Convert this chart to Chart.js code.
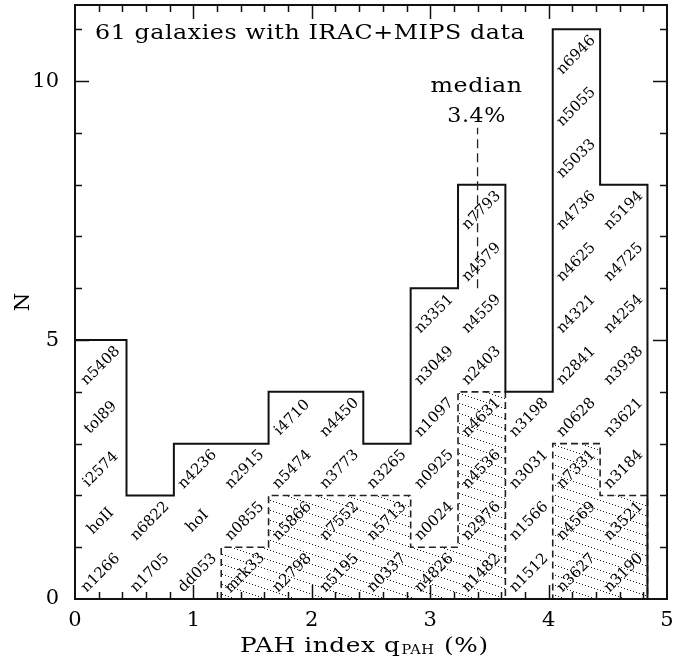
<!DOCTYPE html>
<html>
<head>
<meta charset="utf-8">
<script src="https://cdn.jsdelivr.net/npm/chart.js@4.4.1/dist/chart.umd.min.js"></script>
<style>
  html, body { margin: 0; padding: 0; background: #fff; }
  #wrap { width: 691px; height: 664px; }
</style>
</head>
<body>
<div id="wrap"><canvas id="hist" width="691" height="664"></canvas></div>
<script>
// Границы интервалов и число галактик в каждом (все 61)
var binEdges = [0.0, 0.435, 0.835, 1.235, 1.635, 2.035, 2.435, 2.835, 3.235, 3.635, 4.035, 4.435, 4.835];
var allCounts = [5, 2, 3, 3, 4, 4, 3, 6, 8, 4, 11, 8];

// Заштрихованная подвыборка
var subEdges = [1.235, 1.635, 2.035, 2.435, 2.835, 3.235, 3.635, 4.035, 4.435, 4.835];
var subCounts = [1, 2, 2, 2, 1, 4, 0, 3, 2];

// Имена галактик по интервалам, снизу вверх
var galaxyNames = [
    ['n1266', 'hoII', 'i2574', 'tol89', 'n5408'],
    ['n1705', 'n6822'],
    ['dd053', 'hoI', 'n4236'],
    ['mrk33', 'n0855', 'n2915'],
    ['n2798', 'n5866', 'n5474', 'i4710'],
    ['n5195', 'n7552', 'n3773', 'n4450'],
    ['n0337', 'n5713', 'n3265'],
    ['n4826', 'n0024', 'n0925', 'n1097', 'n3049', 'n3351'],
    ['n1482', 'n2976', 'n4536', 'n4631', 'n2403', 'n4559', 'n4579', 'n7793'],
    ['n1512', 'n1566', 'n3031', 'n3198'],
    ['n3627', 'n4569', 'n7331', 'n0628', 'n2841', 'n4321', 'n4625', 'n4736', 'n5033', 'n5055', 'n6946'],
    ['n3190', 'n3521', 'n3184', 'n3621', 'n3938', 'n4254', 'n4725', 'n5194']
];

// Медиана
var medianValue = 3.4;
var medianSpan = [6, 9.1];

// Подписи осей
var xTickValues = [0, 1, 2, 3, 4, 5];
var yTickValues = [0, 5, 10];

var SERIF = "'DejaVu Serif', 'Liberation Serif', serif";
Chart.defaults.font.family = SERIF;
Chart.defaults.color = '#000';

// Точки ступенчатой линии
function stepPoints(edges, counts) {
    var pts = [{ x: edges[0], y: 0 }];
    for (var i = 0; i < counts.length; i++) {
        pts.push({ x: edges[i], y: counts[i] });
    }
    pts.push({ x: edges[edges.length - 1], y: counts[counts.length - 1] });
    pts.push({ x: edges[edges.length - 1], y: 0 });
    return pts;
}

// Штриховка точечными наклонными линиями
function makeHatch(ctx) {
    var c = document.createElement('canvas');
    c.width = 30;
    c.height = 10;
    var g = c.getContext('2d');
    g.fillStyle = '#1a1a1a';
    for (var t = 0; t < 30; t += 3) {
        g.fillRect(t, Math.round(t / 3), 1, 1);
    }
    return ctx.createPattern(c, 'repeat');
}

// Широкий текст: растяжение по горизонтали
function wideText(ctx, text, x, y, size, sx, align) {
    ctx.save();
    ctx.font = size + 'px ' + SERIF;
    ctx.letterSpacing = '0.5px';
    var w = ctx.measureText(text).width * sx;
    var left = align === 'center' ? x - w / 2 : x;
    ctx.translate(left, y);
    ctx.scale(sx, 1);
    ctx.textAlign = 'left';
    ctx.fillText(text, 0, 0);
    ctx.restore();
    return w;
}

// Рамка и засечки внутрь
var frameTicks = {
    id: 'frameTicks',
    afterDatasetsDraw: function (chart) {
        var ctx = chart.ctx, a = chart.chartArea;
        var xs = chart.scales.x, ys = chart.scales.y;
        ctx.save();
        ctx.strokeStyle = '#111';
        ctx.lineWidth = 1.5;
        ctx.beginPath();
        var v, px, len;
        for (var k = 1; k < 25; k++) {
            v = k * 0.2;
            px = Math.round(xs.getPixelForValue(v)) + 0.5;
            len = (k % 5 === 0) ? 14 : 7;
            ctx.moveTo(px, a.bottom); ctx.lineTo(px, a.bottom - len);
            ctx.moveTo(px, a.top); ctx.lineTo(px, a.top + len);
        }
        for (var m = 1; m <= 11; m++) {
            px = Math.round(ys.getPixelForValue(m)) + 0.5;
            len = (m % 5 === 0) ? 14 : 7;
            ctx.moveTo(a.left, px); ctx.lineTo(a.left + len, px);
            ctx.moveTo(a.right, px); ctx.lineTo(a.right - len, px);
        }
        ctx.stroke();
        ctx.lineWidth = 2;
        ctx.strokeRect(a.left, a.top, a.right - a.left, a.bottom - a.top);
        ctx.restore();
    }
};

// Подписи галактик, надписи и названия осей
var textLayer = {
    id: 'textLayer',
    afterDraw: function (chart) {
        var ctx = chart.ctx, a = chart.chartArea;
        var xs = chart.scales.x, ys = chart.scales.y;
        ctx.save();
        ctx.fillStyle = '#000';

        ctx.font = '15px ' + SERIF;
        ctx.textAlign = 'center';
        ctx.textBaseline = 'middle';
        for (var i = 0; i < galaxyNames.length; i++) {
            var cx = xs.getPixelForValue((binEdges[i] + binEdges[i + 1]) / 2);
            for (var j = 0; j < galaxyNames[i].length; j++) {
                var cy = ys.getPixelForValue(j + 0.5);
                ctx.save();
                ctx.translate(cx, cy);
                ctx.rotate(-Math.PI / 4);
                ctx.fillText(galaxyNames[i][j], 0, 0);
                ctx.restore();
            }
        }

        ctx.textBaseline = 'alphabetic';
        wideText(ctx, '61 galaxies with IRAC+MIPS data', a.left + 20, a.top + 34, 21, 1.13, 'left');

        var mx = xs.getPixelForValue(medianValue) - 1;
        wideText(ctx, 'median', mx, a.top + 87, 21, 1.13, 'center');
        wideText(ctx, '3.4%', mx, a.top + 117, 21, 1.06, 'center');

        // Подпись оси X с индексом
        var x0 = 240, by = 652;
        x0 += wideText(ctx, 'PAH index q', x0, by, 21, 1.18, 'left');
        x0 += wideText(ctx, 'PAH', x0 + 1, by + 2, 12, 1.2, 'left') + 2;
        wideText(ctx, ' (%)', x0, by, 21, 1.18, 'left');

        // Подпись оси Y
        ctx.save();
        ctx.translate(24, (a.top + a.bottom) / 2);
        ctx.rotate(-Math.PI / 2);
        ctx.textAlign = 'center';
        ctx.textBaseline = 'middle';
        ctx.font = '21px ' + SERIF;
        ctx.fillText('N', 0, 0);
        ctx.restore();

        ctx.restore();
    }
};

var ctx = document.getElementById('hist').getContext('2d');

var chart = new Chart(ctx, {
    type: 'line',
    data: {
        datasets: [{
            label: 'median',
            data: [{ x: medianValue, y: medianSpan[0] }, { x: medianValue, y: medianSpan[1] }],
            borderColor: '#222',
            borderWidth: 1.3,
            borderDash: [9, 5],
            pointRadius: 0,
            fill: false
        }, {
            label: 'all',
            data: stepPoints(binEdges, allCounts),
            stepped: 'before',
            borderColor: '#111',
            borderWidth: 2,
            pointRadius: 0,
            fill: false
        }, {
            label: 'subset',
            data: stepPoints(subEdges, subCounts),
            stepped: 'before',
            borderColor: '#222',
            borderWidth: 1.6,
            borderDash: [7, 4],
            pointRadius: 0,
            backgroundColor: makeHatch(ctx),
            fill: 'origin'
        }]
    },
    options: {
        responsive: false,
        animation: false,
        devicePixelRatio: 1,
        layout: { padding: { top: 5, right: 24, left: 0, bottom: 0 } },
        plugins: {
            legend: { display: false },
            tooltip: { enabled: false }
        },
        events: [],
        scales: {
            x: {
                type: 'linear',
                position: 'bottom',
                min: 0,
                max: 5,
                afterFit: function (s) {
                    s.height = 65;
                    s.paddingLeft = 0;
                    s.paddingRight = 0;
                },
                afterBuildTicks: function (s) {
                    s.ticks = xTickValues.map(function (v) { return { value: v }; });
                },
                grid: { display: false, drawTicks: false },
                border: { display: false },
                ticks: {
                    font: { size: 21 },
                    color: '#000',
                    padding: 9,
                    maxRotation: 0
                }
            },
            y: {
                type: 'linear',
                min: 0,
                max: 11.47,
                afterFit: function (s) {
                    s.width = 75;
                    s.paddingTop = 0;
                    s.paddingBottom = 0;
                },
                afterBuildTicks: function (s) {
                    s.ticks = yTickValues.map(function (v) { return { value: v }; });
                },
                grid: { display: false, drawTicks: false },
                border: { display: false },
                ticks: {
                    font: { size: 21 },
                    color: '#000',
                    padding: 16
                }
            }
        }
    },
    plugins: [frameTicks, textLayer]
});
</script>
</body>
</html>
